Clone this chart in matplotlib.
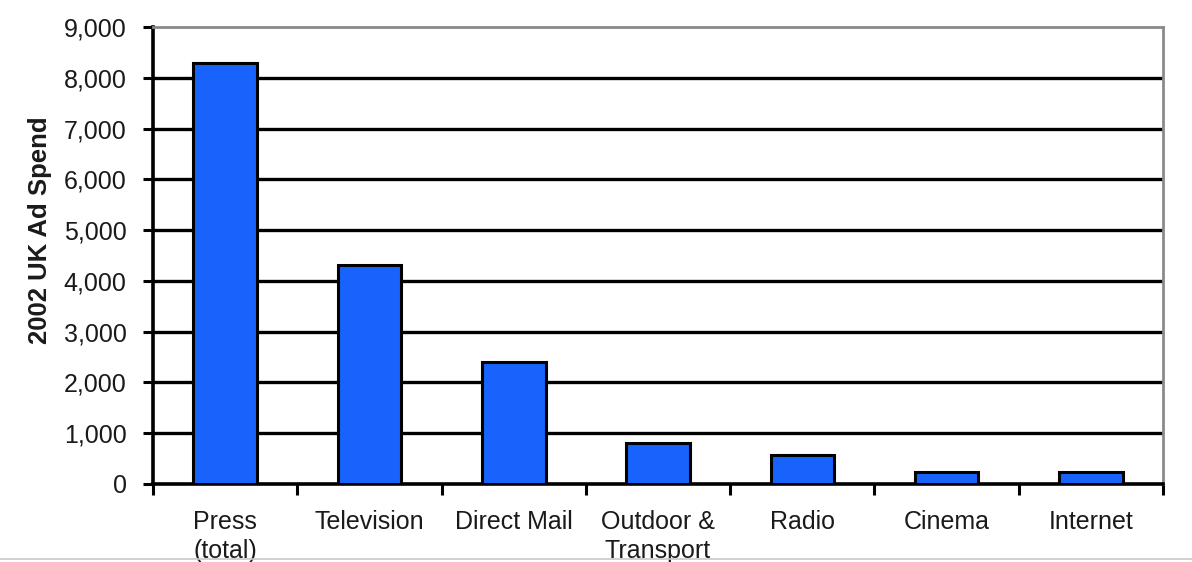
import matplotlib.pyplot as plt
from matplotlib.lines import Line2D

# Data
categories = ["Press\n(total)", "Television", "Direct Mail", "Outdoor &\nTransport",
              "Radio", "Cinema", "Internet"]
spend = [8300, 4320, 2400, 810, 570, 230, 230]
y_ticks = [0, 1000, 2000, 3000, 4000, 5000, 6000, 7000, 8000, 9000]

bar_color = "#1763fb"
text_color = "#1a1a1a"

plt.rcParams["font.family"] = ["Liberation Sans", "DejaVu Sans"]

fig = plt.figure(figsize=(11.92, 5.62), dpi=100)
ax = fig.add_axes([0.1284, 0.1388, 0.8473, 0.8132])

x = list(range(len(categories)))
ax.bar(x, spend, width=0.44, color=bar_color, edgecolor="black", linewidth=2.2, zorder=3)

ax.set_xlim(-0.5, len(categories) - 0.5)
ax.set_ylim(0, 9000)

# horizontal gridlines
for v in y_ticks[1:-1]:
    ax.axhline(v, color="black", linewidth=2.4, zorder=1)

ax.set_yticks(y_ticks)
ax.set_yticklabels([f"{v:,}" for v in y_ticks], fontsize=18, color=text_color)
ax.tick_params(axis="y", direction="out", length=7, width=2.2, pad=12)

# category labels centred, ticks at boundaries
ax.set_xticks(x)
ax.set_xticklabels(categories, fontsize=18, linespacing=1.22, color=text_color)
ax.tick_params(axis="x", which="major", length=0, pad=19)
ax.set_xticks([i - 0.5 for i in range(len(categories) + 1)], minor=True)
ax.tick_params(axis="x", which="minor", direction="out", length=8, width=2.2)

ax.spines["left"].set_linewidth(2.6)
ax.spines["bottom"].set_linewidth(2.6)
ax.spines["top"].set_color("#8a8a8a")
ax.spines["top"].set_linewidth(2)
ax.spines["right"].set_color("#8a8a8a")
ax.spines["right"].set_linewidth(2)

ax.set_ylabel("2002 UK Ad Spend", fontsize=18.5, fontweight="bold", color=text_color)
ax.yaxis.set_label_coords(-0.1, 0.555)

# thin page edge at the bottom
fig.add_artist(Line2D([0, 1], [0.005, 0.005], color="#c8c8c8", linewidth=1.2,
                      transform=fig.transFigure))

plt.savefig("out.png", dpi=100)
